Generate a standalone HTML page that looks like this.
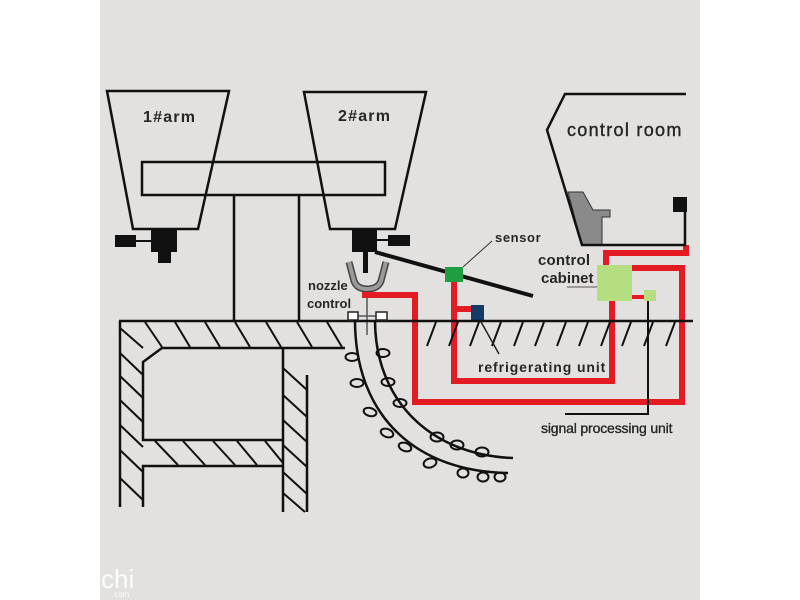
<!DOCTYPE html>
<html><head><meta charset="utf-8"><style>
html,body{margin:0;padding:0;background:#fff;}
svg{display:block;}
text{font-family:"Liberation Sans",Arial,sans-serif;fill:#262626;}
</style></head><body>
<svg width="800" height="600" viewBox="0 0 800 600" xmlns="http://www.w3.org/2000/svg">
<rect x="0" y="0" width="800" height="600" fill="#fff"/>
<rect x="100" y="0" width="600" height="600" fill="#e2e1df"/>

<!-- arms -->
<g fill="none" stroke="#111" stroke-width="2.5" stroke-linejoin="miter">
  <polygon points="107,91 229,91 198,229 133,229"/>
  <polygon points="304,92 426,92 395,229 330,229"/>
  <rect x="142" y="162" width="243" height="33"/>
  <line x1="234" y1="195" x2="234" y2="321"/>
  <line x1="299" y1="195" x2="299" y2="321"/>
</g>
<text x="143" y="122" font-size="16" font-weight="bold" letter-spacing="1.2">1#arm</text>
<text x="338" y="121" font-size="16" font-weight="bold" letter-spacing="1.2">2#arm</text>

<!-- arm1 nozzle -->
<g fill="#111">
  <rect x="151" y="230" width="26" height="22"/>
  <rect x="158" y="252" width="13" height="11"/>
  <rect x="115" y="235" width="21" height="12"/>
  <rect x="136" y="240" width="15" height="2"/>
  <!-- arm2 nozzle -->
  <rect x="352" y="230" width="25" height="22"/>
  <rect x="363" y="252" width="5" height="21"/>
  <rect x="377" y="239" width="11" height="2"/>
  <rect x="388" y="235" width="22" height="11"/>
</g>
<!-- diagonal bar -->
<line x1="375" y1="252" x2="533" y2="296" stroke="#111" stroke-width="4"/>

<!-- nozzle cup -->
<path d="M349,262 L354,281 Q357,289 367,289 Q378,289 381,281 L386,262" fill="none" stroke="#444" stroke-width="7"/>
<path d="M349,262 L354,281 Q357,289 367,289 Q378,289 381,281 L386,262" fill="none" stroke="#9a9a9a" stroke-width="4"/>
<line x1="367" y1="292" x2="367" y2="335" stroke="#555" stroke-width="1.5"/>
<line x1="358" y1="316" x2="376" y2="316" stroke="#555" stroke-width="1.5"/>
<text x="308" y="290" font-size="13" font-weight="bold">nozzle</text>
<text x="307" y="308" font-size="13" font-weight="bold">control</text>

<!-- red pipes -->
<g fill="none" stroke="#e31b23" stroke-width="6" stroke-linejoin="miter">
  <polyline points="362,295 415,295 415,402 682,402 682,268 632,268"/>
  <polyline points="454,282 454,381 612,381 612,300"/>
  <polyline points="454,309 472,309"/>
  <polyline points="606,266 606,253 686,253 686,245"/>
</g>
<line x1="632" y1="297" x2="645" y2="297" stroke="#e31b23" stroke-width="4"/>

<!-- sensor -->
<rect x="445" y="267" width="18" height="15" fill="#1e9e3e"/>
<line x1="463" y1="267" x2="492" y2="241" stroke="#333" stroke-width="1"/>
<text x="495" y="242" font-size="13" font-weight="bold" letter-spacing="0.6">sensor</text>

<!-- refrigerating unit -->
<rect x="471" y="305" width="13" height="15" fill="#163a66"/>

<!-- control cabinet -->
<rect x="597" y="265" width="35" height="36" fill="#b5de80"/>
<rect x="644" y="290" width="12" height="11" fill="#b5de80"/>
<line x1="567" y1="287" x2="597" y2="287" stroke="#555" stroke-width="1"/>
<text x="538" y="265" font-size="15" font-weight="bold" letter-spacing="0.2">control</text>
<text x="541" y="283" font-size="15" font-weight="bold">cabinet</text>

<!-- signal processing -->
<polyline points="648,301 648,414 565,414" fill="none" stroke="#111" stroke-width="2"/>
<text x="541" y="433" font-size="14" letter-spacing="-0.15" style="stroke:#262626;stroke-width:0.35">signal processing unit</text>

<!-- ground hatches right -->
<g stroke="#111" stroke-width="2">
  <line x1="436" y1="322" x2="427" y2="346"/>
  <line x1="458" y1="322" x2="449" y2="346"/>
  <line x1="479" y1="322" x2="470" y2="346"/>
  <line x1="501" y1="322" x2="492" y2="346"/>
  <line x1="523" y1="322" x2="514" y2="346"/>
  <line x1="544" y1="322" x2="535" y2="346"/>
  <line x1="566" y1="322" x2="557" y2="346"/>
  <line x1="588" y1="322" x2="579" y2="346"/>
  <line x1="610" y1="322" x2="601" y2="346"/>
  <line x1="631" y1="322" x2="622" y2="346"/>
  <line x1="653" y1="322" x2="644" y2="346"/>
  <line x1="675" y1="322" x2="666" y2="346"/>
</g>
<line x1="480" y1="320" x2="499" y2="354" stroke="#222" stroke-width="1.5"/>
<text x="478" y="372" font-size="14" font-weight="bold" letter-spacing="0.9">refrigerating unit</text>

<!-- ground line -->
<line x1="119" y1="321" x2="693" y2="321" stroke="#111" stroke-width="2.5"/>

<!-- mold squares -->
<rect x="348" y="312" width="10" height="8" fill="#fff" stroke="#222" stroke-width="1.5"/>
<rect x="376" y="312" width="11" height="8" fill="#fff" stroke="#222" stroke-width="1.5"/>

<!-- building -->
<g fill="none" stroke="#111" stroke-width="2.5" stroke-linejoin="miter">
  <line x1="120" y1="321" x2="120" y2="507"/>
  <polyline points="345,348 162,348 143,362 143,440 283,440"/>
  <line x1="283" y1="348" x2="283" y2="512"/>
  <polyline points="283,466 143,466 143,507"/>
  <line x1="307" y1="375" x2="307" y2="512"/>
</g>
<g stroke="#111" stroke-width="2">
  <line x1="145" y1="322" x2="162" y2="347"/>
  <line x1="175" y1="322" x2="190" y2="347"/>
  <line x1="205" y1="322" x2="220" y2="347"/>
  <line x1="235" y1="322" x2="250" y2="347"/>
  <line x1="266" y1="322" x2="281" y2="347"/>
  <line x1="297" y1="322" x2="312" y2="347"/>
  <line x1="327" y1="322" x2="342" y2="347"/>
  <line x1="120" y1="328" x2="143" y2="348"/>
  <line x1="120" y1="353" x2="143" y2="375"/>
  <line x1="120" y1="376" x2="143" y2="398"/>
  <line x1="120" y1="400" x2="143" y2="422"/>
  <line x1="120" y1="425" x2="143" y2="447"/>
  <line x1="120" y1="450" x2="143" y2="472"/>
  <line x1="120" y1="478" x2="143" y2="500"/>
  <line x1="155" y1="441" x2="178" y2="465"/>
  <line x1="183" y1="441" x2="205" y2="465"/>
  <line x1="213" y1="441" x2="235" y2="465"/>
  <line x1="237" y1="441" x2="257" y2="465"/>
  <line x1="265" y1="441" x2="283" y2="463"/>
  <line x1="283" y1="368" x2="307" y2="390"/>
  <line x1="283" y1="395" x2="307" y2="417"/>
  <line x1="283" y1="420" x2="307" y2="442"/>
  <line x1="283" y1="445" x2="307" y2="467"/>
  <line x1="283" y1="472" x2="307" y2="494"/>
  <line x1="283" y1="493" x2="305" y2="512"/>
</g>

<!-- mold tube -->
<g fill="none" stroke="#111" stroke-width="2.5">
  <path d="M355,320 C355,420 420,472 508,473"/>
  <path d="M375,320 C375,400 430,455 513,458"/>
</g>
<g fill="none" stroke="#111" stroke-width="2">
  <ellipse cx="352" cy="357" rx="6.5" ry="4"/>
  <ellipse cx="357" cy="383" rx="6.5" ry="4"/>
  <ellipse cx="370" cy="412" rx="6.5" ry="4" transform="rotate(15 370 412)"/>
  <ellipse cx="387" cy="433" rx="6.5" ry="4" transform="rotate(20 387 433)"/>
  <ellipse cx="405" cy="447" rx="6.5" ry="4" transform="rotate(20 405 447)"/>
  <ellipse cx="430" cy="463" rx="6.5" ry="4.5" transform="rotate(-15 430 463)"/>
  <ellipse cx="463" cy="473" rx="5.5" ry="4.5"/>
  <ellipse cx="483" cy="477" rx="5.5" ry="4.5"/>
  <ellipse cx="500" cy="477" rx="5.5" ry="4.5"/>
  <ellipse cx="383" cy="353" rx="6.5" ry="4"/>
  <ellipse cx="388" cy="382" rx="6.5" ry="4"/>
  <ellipse cx="400" cy="403" rx="6.5" ry="4"/>
  <ellipse cx="437" cy="437" rx="6.5" ry="4.5"/>
  <ellipse cx="457" cy="445" rx="6.5" ry="4.5"/>
  <ellipse cx="482" cy="452" rx="6.5" ry="4.5"/>
</g>

<!-- control room -->
<path d="M568,192 L583,192 L593,210 L610,210 L610,217 L602,217 L602,245 L582,245 Z" fill="#8a8a8a" stroke="#333" stroke-width="1"/>
<path d="M686,94 L565,94 L547,130 L582,245 L685,245 L685,212" fill="none" stroke="#111" stroke-width="2.5"/>
<rect x="673" y="197" width="14" height="15" fill="#111"/>
<text x="567" y="136" font-size="18" letter-spacing="1.3" style="stroke:#262626;stroke-width:0.4">control room</text>

<!-- watermark -->
<text x="101" y="588" font-size="26" style="fill:#fff" opacity="0.9">chi</text>
<text x="112" y="597" font-size="8" style="fill:#fff" opacity="0.9">.com</text>
</svg>
</body></html>
